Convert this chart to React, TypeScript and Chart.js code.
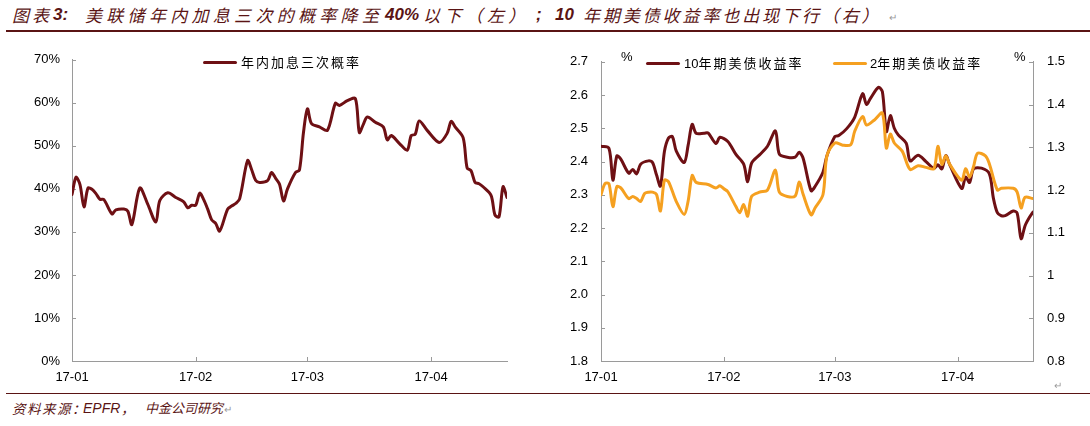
import React, { useEffect, useRef } from 'react';
import { Chart, registerables } from 'chart.js';

Chart.register(...registerables);

// ---------- data ----------
// x positions are days since 2017-01-01
const xTickDays = [0, 31, 59, 90];
const xTickLabels = ['17-01', '17-02', '17-03', '17-04'];

const probDays = [0, 1, 2, 3, 4, 5, 6, 7, 8, 10, 11, 13, 14, 15, 17, 19, 21, 22, 24, 26, 28, 29, 30, 31, 32, 33, 34, 35, 36, 37, 39, 40, 41, 42, 44, 45, 46, 47, 49, 50, 51, 52, 53, 54, 56, 57, 58, 59, 60, 62, 64, 66, 67, 69, 71, 72, 73, 74, 76, 78, 79, 80, 82, 84, 85, 86, 87, 89, 92, 94, 95, 96, 98, 99, 100, 101, 102, 103, 105, 106, 107, 108, 109];
const probValues = [38.7, 42.7, 41.0, 35.8, 40.2, 39.9, 38.9, 37.6, 37.5, 34.2, 35.1, 35.3, 34.8, 31.7, 40.2, 36.4, 32.3, 37.3, 39.1, 38.0, 37.0, 35.6, 36.2, 36.2, 39.0, 37.5, 35.3, 32.8, 32.0, 30.2, 35.3, 36.0, 36.6, 37.7, 46.6, 44.5, 42.0, 41.5, 41.9, 43.8, 42.5, 41.1, 37.2, 40.0, 43.8, 44.4, 53.1, 58.6, 55.2, 54.4, 53.6, 59.9, 59.4, 60.5, 61.0, 53.1, 55.0, 56.7, 55.5, 54.4, 51.4, 52.4, 50.6, 49.0, 52.4, 52.7, 55.8, 53.6, 50.8, 52.9, 55.7, 54.4, 51.9, 44.9, 44.2, 41.5, 41.2, 40.5, 38.5, 33.9, 33.5, 40.5, 38.0];

const t10Days = [0, 2, 3, 4, 5, 7, 8, 9, 10, 12, 13, 14, 15, 16, 17, 18, 19, 21, 22, 23, 24, 26, 27, 29, 30, 32, 34, 36, 37, 38, 40, 42, 44, 45, 47, 49, 50, 51, 53, 54, 56, 57, 59, 60, 62, 64, 66, 67, 68, 70, 71, 72, 73, 74, 75, 77, 78, 80, 82, 84, 85, 86, 87, 88, 91, 92, 93, 94, 96, 98, 99, 100, 101, 102, 104, 105, 106, 107, 108, 109];
const t10Values = [2.446, 2.44, 2.344, 2.417, 2.407, 2.365, 2.376, 2.363, 2.392, 2.402, 2.397, 2.36, 2.326, 2.43, 2.47, 2.475, 2.431, 2.397, 2.45, 2.512, 2.485, 2.485, 2.486, 2.454, 2.473, 2.46, 2.422, 2.392, 2.339, 2.395, 2.42, 2.446, 2.492, 2.422, 2.413, 2.413, 2.428, 2.41, 2.312, 2.325, 2.368, 2.417, 2.475, 2.478, 2.499, 2.533, 2.604, 2.572, 2.59, 2.623, 2.61, 2.49, 2.538, 2.5, 2.48, 2.455, 2.402, 2.419, 2.4, 2.379, 2.39, 2.378, 2.418, 2.39, 2.319, 2.353, 2.337, 2.378, 2.38, 2.363, 2.29, 2.246, 2.237, 2.237, 2.251, 2.245, 2.168, 2.207, 2.23, 2.248];

const t2Days = [0, 1, 2, 3, 4, 5, 7, 8, 9, 10, 11, 12, 13, 14, 15, 16, 17, 19, 21, 22, 23, 24, 27, 29, 30, 31, 32, 34, 35, 36, 37, 38, 40, 42, 44, 45, 47, 49, 50, 51, 53, 54, 56, 57, 59, 61, 63, 64, 66, 67, 69, 71, 72, 73, 74, 76, 78, 80, 82, 84, 85, 86, 87, 88, 91, 92, 93, 94, 95, 97, 98, 100, 101, 104, 105, 106, 107, 109];
const t2Values = [1.189, 1.215, 1.215, 1.161, 1.208, 1.205, 1.18, 1.185, 1.18, 1.173, 1.192, 1.195, 1.195, 1.19, 1.151, 1.223, 1.22, 1.173, 1.143, 1.175, 1.234, 1.218, 1.213, 1.205, 1.21, 1.203, 1.196, 1.162, 1.147, 1.166, 1.139, 1.185, 1.195, 1.2, 1.247, 1.195, 1.185, 1.186, 1.219, 1.19, 1.142, 1.158, 1.189, 1.28, 1.31, 1.305, 1.306, 1.337, 1.372, 1.352, 1.364, 1.38, 1.298, 1.331, 1.31, 1.291, 1.248, 1.257, 1.253, 1.25, 1.302, 1.26, 1.28, 1.26, 1.223, 1.25, 1.23, 1.255, 1.286, 1.28, 1.261, 1.2, 1.204, 1.204, 1.195, 1.158, 1.183, 1.18];

// ---------- styles ----------
const MAROON = '#6e1014';
const ORANGE = '#f5a020';
const AXIS = '#9a9a9a';
const TITLE = '#5a1414';
const NUM = '"Liberation Sans", Arial, sans-serif';
const CJK = '"Noto Sans CJK SC", "Noto Sans", sans-serif';

const inwardTicks = {
  id: 'inwardTicks',
  beforeDatasetsDraw(chart: any) {
    const ctx = chart.ctx;
    const a = chart.chartArea;
    ctx.save();
    ctx.strokeStyle = AXIS;
    ctx.lineWidth = 1;
    Object.values(chart.scales).forEach((s: any) => {
      s.ticks.forEach((t: any) => {
        const p = Math.round(s.getPixelForValue(t.value)) + 0.5;
        ctx.beginPath();
        if (s.axis === 'x') {
          ctx.moveTo(p, a.bottom);
          ctx.lineTo(p, a.bottom - 4);
        } else if (s.position === 'left') {
          ctx.moveTo(a.left, p);
          ctx.lineTo(a.left + 4, p);
        } else {
          ctx.moveTo(a.right, p);
          ctx.lineTo(a.right - 4, p);
        }
        ctx.stroke();
      });
    });
    ctx.restore();
  },
};

function xScale() {
  return {
    type: 'linear',
    min: 0,
    max: 109,
    afterBuildTicks: (s: any) => {
      s.ticks = xTickDays.map((v) => ({ value: v }));
    },
    afterFit: (s: any) => {
      s.height = 29;
    },
    ticks: {
      autoSkip: false,
      maxRotation: 0,
      padding: 9,
      color: '#000',
      font: { family: NUM, size: 13 },
      callback: (v: any) => {
        const i = xTickDays.indexOf(Number(v));
        return i >= 0 ? xTickLabels[i] : '';
      },
    },
    grid: { display: false, drawTicks: false },
    border: { display: true, color: AXIS, width: 1 },
  };
}

function pts(days: number[], vals: number[]) {
  return days.map((d, i) => ({ x: d, y: vals[i] }));
}

function LeftChart() {
  const ref = useRef<HTMLCanvasElement>(null);
  useEffect(() => {
    const chart = new Chart(ref.current as HTMLCanvasElement, {
      type: 'line',
      data: {
        datasets: [
          {
            label: '年内加息三次概率',
            data: pts(probDays, probValues),
            borderColor: MAROON,
            borderWidth: 3,
            pointRadius: 0,
            tension: 0.3,
            fill: false,
            borderJoinStyle: 'round',
            borderCapStyle: 'round',
          },
        ],
      },
      options: {
        animation: false,
        responsive: false,
        layout: { padding: { left: 0, right: 38, top: 14, bottom: 0 } },
        plugins: { legend: { display: false }, tooltip: { enabled: false } },
        scales: {
          x: xScale(),
          y: {
            min: 0,
            max: 70,
            afterFit: (s: any) => {
              s.width = 72;
            },
            ticks: {
              stepSize: 10,
              padding: 12,
              color: '#000',
              font: { family: NUM, size: 13 },
              callback: (v: any) => `${Math.round(Number(v))}%`,
            },
            grid: { display: false, drawTicks: false },
            border: { display: true, color: AXIS, width: 1 },
          },
        },
      } as any,
      plugins: [inwardTicks],
    } as any);
    return () => chart.destroy();
  }, []);
  return (
    <canvas
      ref={ref}
      width={545}
      height={350}
      style={{ position: 'absolute', left: 0, top: 40, width: 545, height: 350 }}
    />
  );
}

function RightChart() {
  const ref = useRef<HTMLCanvasElement>(null);
  useEffect(() => {
    const chart = new Chart(ref.current as HTMLCanvasElement, {
      type: 'line',
      data: {
        datasets: [
          {
            label: '10年期美债收益率',
            data: pts(t10Days, t10Values),
            yAxisID: 'y',
            borderColor: MAROON,
            borderWidth: 3,
            pointRadius: 0,
            tension: 0.3,
            fill: false,
            order: 1,
            borderJoinStyle: 'round',
            borderCapStyle: 'round',
          },
          {
            label: '2年期美债收益率',
            data: pts(t2Days, t2Values),
            yAxisID: 'y2',
            borderColor: ORANGE,
            borderWidth: 3,
            pointRadius: 0,
            tension: 0.3,
            fill: false,
            order: 0,
            borderJoinStyle: 'round',
            borderCapStyle: 'round',
          },
        ],
      },
      options: {
        animation: false,
        responsive: false,
        layout: { padding: { left: 0, right: 0, top: 14, bottom: 0 } },
        plugins: { legend: { display: false }, tooltip: { enabled: false } },
        scales: {
          x: xScale(),
          y: {
            position: 'left',
            min: 1.8,
            max: 2.7,
            afterFit: (s: any) => {
              s.width = 56;
            },
            ticks: {
              stepSize: 0.1,
              padding: 13,
              color: '#000',
              font: { family: NUM, size: 13 },
              callback: (v: any) => Number(v).toFixed(1),
            },
            grid: { display: false, drawTicks: false },
            border: { display: true, color: AXIS, width: 1 },
          },
          y2: {
            position: 'right',
            min: 0.8,
            max: 1.5,
            afterFit: (s: any) => {
              s.width = 57;
            },
            ticks: {
              stepSize: 0.1,
              padding: 14,
              color: '#000',
              font: { family: NUM, size: 13 },
              callback: (v: any) => String(Number(Number(v).toFixed(1))),
            },
            grid: { display: false, drawTicks: false },
            border: { display: true, color: AXIS, width: 1 },
          },
        },
      } as any,
      plugins: [inwardTicks],
    } as any);
    return () => chart.destroy();
  }, []);
  return (
    <canvas
      ref={ref}
      width={545}
      height={350}
      style={{ position: 'absolute', left: 545, top: 40, width: 545, height: 350 }}
    />
  );
}

function Txt(props: {
  x: number;
  cy: number;
  size: number;
  children: React.ReactNode;
  color?: string;
  family?: string;
  italic?: boolean;
  bold?: boolean;
  spacing?: number;
}) {
  const lh = Math.round(props.size * 1.4);
  return (
    <div
      style={{
        position: 'absolute',
        left: props.x,
        top: props.cy - lh / 2,
        lineHeight: `${lh}px`,
        fontSize: props.size,
        fontFamily: props.family || CJK,
        fontStyle: props.italic ? 'italic' : 'normal',
        fontWeight: props.bold ? 700 : 400,
        color: props.color || '#000',
        letterSpacing: props.spacing ? `${props.spacing}px` : undefined,
        whiteSpace: 'nowrap',
      }}
    >
      {props.children}
    </div>
  );
}

function LegendLine(props: { x1: number; x2: number; cy: number; color: string }) {
  return (
    <div
      style={{
        position: 'absolute',
        left: props.x1,
        top: props.cy - 1.5,
        width: props.x2 - props.x1,
        height: 3,
        background: props.color,
        borderRadius: 1.5,
      }}
    />
  );
}

export default function App() {
  return (
    <div
      style={{
        position: 'fixed',
        left: 0,
        top: 0,
        width: 1090,
        height: 426,
        background: '#fff',
        overflow: 'hidden',
      }}
    >
      {/* title */}
      <Txt x={12} cy={15} size={17} color={TITLE} italic spacing={3}>图表</Txt>
      <Txt x={53} cy={15} size={17} color={TITLE} italic bold family={NUM}>3:</Txt>
      <Txt x={85} cy={15} size={17} color={TITLE} italic spacing={4.3}>美联储年内加息三次的概率降至</Txt>
      <Txt x={385} cy={15} size={17} color={TITLE} italic bold family={NUM}>40%</Txt>
      <Txt x={423} cy={15} size={17} color={TITLE} italic spacing={4.3}>以下（左）</Txt>
      <Txt x={536} cy={15} size={17} color={TITLE} italic bold family={NUM}>;</Txt>
      <Txt x={555} cy={15} size={17} color={TITLE} italic bold family={NUM}>10</Txt>
      <Txt x={583} cy={15} size={17} color={TITLE} italic spacing={2.9}>年期美债收益率也出现下行（右）</Txt>
      <Txt x={889} cy={18} size={10} color="#999" family={NUM}>↵</Txt>
      <div style={{ position: 'absolute', left: 6, top: 30, width: 1084, height: 1.5, background: TITLE }} />

      <LeftChart />
      <RightChart />

      {/* legends & units */}
      <LegendLine x1={203} x2={237} cy={62} color={MAROON} />
      <Txt x={241} cy={62} size={13} spacing={2}>年内加息三次概率</Txt>

      <Txt x={621} cy={57} size={13} family={NUM}>%</Txt>
      <Txt x={1014} cy={57} size={13} family={NUM}>%</Txt>
      <LegendLine x1={646} x2={680} cy={63} color={MAROON} />
      <Txt x={684} cy={63} size={13} spacing={2}>
        <span style={{ fontFamily: NUM, letterSpacing: 0 }}>10</span>年期美债收益率
      </Txt>
      <LegendLine x1={833} x2={867} cy={63} color={ORANGE} />
      <Txt x={870} cy={63} size={13} spacing={2}>
        <span style={{ fontFamily: NUM, letterSpacing: 0 }}>2</span>年期美债收益率
      </Txt>

      <Txt x={1054} cy={386} size={10} color="#999" family={NUM}>↵</Txt>
      <div style={{ position: 'absolute', left: 6, top: 392.5, width: 1084, height: 1.5, background: TITLE }} />

      {/* source */}
      <Txt x={12} cy={408} size={13.5} color={TITLE} italic spacing={1.5}>资料来源：</Txt>
      <Txt x={83} cy={408} size={14} color={TITLE} italic family={NUM}>EPFR</Txt>
      <Txt x={121} cy={408} size={13.5} color={TITLE} italic>，</Txt>
      <Txt x={145} cy={408} size={13} color={TITLE} italic>中金公司研究</Txt>
      <Txt x={224} cy={410} size={10} color="#999" family={NUM}>↵</Txt>
    </div>
  );
}
